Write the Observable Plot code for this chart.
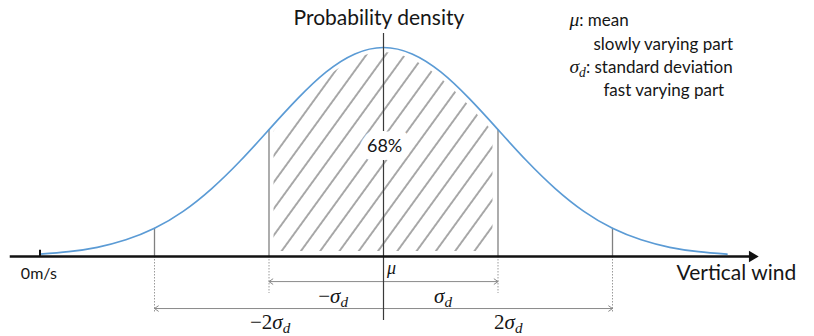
<!DOCTYPE html>
<html>
<head>
<meta charset="utf-8">
<script src="https://cdn.jsdelivr.net/npm/d3@7"></script>
<script src="https://cdn.jsdelivr.net/npm/@observablehq/plot@0.6"></script>
<style>
  body { margin: 0; background: #fff; }
  #chart svg { display: block; }
</style>
</head>
<body>
<div id="chart"></div>
<script>
// ---- data (x in units of sigma, density normalised to the peak) ----
const sigmaSteps   = [-3, -2.75, -2.5, -2.25, -2, -1.75, -1.5, -1.25, -1, -0.75, -0.5, -0.25, 0, 0.25, 0.5, 0.75, 1, 1.25, 1.5, 1.75, 2, 2.25, 2.5, 2.75, 3];
const densityValues = [0.011, 0.023, 0.044, 0.080, 0.135, 0.216, 0.325, 0.458, 0.607, 0.755, 0.883, 0.969, 1.0, 0.969, 0.883, 0.755, 0.607, 0.458, 0.325, 0.216, 0.135, 0.080, 0.044, 0.023, 0.011];
const boundaryMarks  = [-2, -1, 1, 2];
const boundaryLabels = ["−2σd", "−σd", "σd", "2σd"];
const shareLabel = "68%";
const legendLines = ["μ: mean", "slowly varying part", "σd: standard deviation", "fast varying part"];
const axisTitleY = "Probability density";
const axisTitleX = "Vertical wind";
const originLabel = "0m/s";
const meanLabel = "μ";

// ---- tables built from the arrays ----
const curve = sigmaSteps.map((u, i) => ({u, p: densityValues[i]}));
const core = curve.filter(d => Math.abs(d.u) <= 1);
const heightAt = u => densityValues[sigmaSteps.indexOf(u)];
const bounds = boundaryMarks.map((u, i) => ({u, h: heightAt(u), label: boundaryLabels[i], level: Math.abs(u)}));

// layout levels (below the axis, in density units)
const arrowLevel = {1: -0.12, 2: -0.249};
const dotLevel = {1: -0.177, 2: -0.268};
const labelLevel = {1: -0.19, 2: -0.314};
const labelShift = {"-2": -0.99, "-1": -0.44, "1": 0.52, "2": 1.09};

const ink = "#161616";
const mathFont = "'Liberation Serif', serif";

const plot = Plot.plot({
  width: 814,
  height: 336,
  margin: 0,
  x: {domain: [-383 / 114.5, 431 / 114.5], axis: null},
  y: {domain: [-80 / 209, 256 / 209], axis: null},
  style: {fontFamily: "Lato, 'Open Sans', sans-serif", color: ink, background: "#fff"},
  marks: [
    // hatched 68% region (white stroke keeps a small gap at the edges)
    Plot.areaY(core, {x: "u", y: "p", curve: "natural", fill: "url(#hatch)", stroke: "#fff", strokeWidth: 10}),
    // boundaries up to the curve
    Plot.ruleX(bounds, {x: "u", y1: () => 0, y2: "h", stroke: "#808080", strokeWidth: 1.3}),
    // dotted extensions under the axis
    Plot.ruleX(bounds, {x: "u", y1: () => 0, y2: d => dotLevel[d.level], stroke: "#9a9a9a", strokeWidth: 1, strokeDasharray: "1.5 1.5"}),
    // dimension arrows from the mean
    Plot.arrow(bounds, {x1: () => 0, x2: "u", y1: d => arrowLevel[d.level], y2: d => arrowLevel[d.level], stroke: "#8a8a8a", strokeWidth: 1, headLength: 7, headAngle: 70}),
    // density curve
    Plot.line(curve, {x: "u", y: "p", curve: "natural", stroke: "#5b9bd5", strokeWidth: 1.7}),
    // mean line
    Plot.ruleX([0], {y1: () => -0.306, y2: () => 1.067, stroke: "#3a3a3a", strokeWidth: 1.2}),
    // horizontal axis with arrow
    Plot.ruleY([0], {x1: () => -3.26, x2: () => 3.2, stroke: "#111", strokeWidth: 2.6}),
    Plot.dot([0], {x: () => 3.22, y: () => 0, symbol: "triangle", rotate: 90, r: 4.2, fill: "#111", stroke: "none"}),
    Plot.ruleX([sigmaSteps[0]], {y1: () => 0, y2: () => 0.03, stroke: "#111", strokeWidth: 2}),
    // texts
    Plot.text([shareLabel], {x: () => 0.01, y: () => 0.526, text: d => d, fontSize: 18, fill: ink, stroke: "#fff", strokeWidth: 16, strokeLinejoin: "round"}),
    Plot.text([axisTitleY], {x: () => -0.04, y: () => 1.139, text: d => d, fontSize: 21, fill: ink}),
    Plot.text([axisTitleX], {x: () => 2.559, y: () => -0.081, text: d => d, textAnchor: "start", fontSize: 21, fill: ink}),
    Plot.text([originLabel], {x: () => -3.01, y: () => -0.081, text: d => d, fontSize: 16, fill: ink}),
    Plot.text([meanLabel], {x: () => 0.03, y: () => -0.054, text: d => d, textAnchor: "start", fontSize: 18, fill: ink}),
    Plot.text(bounds, {x: d => labelShift[d.u], y: d => labelLevel[d.level], text: "label", fontSize: 21, fill: ink}),
    Plot.text(legendLines, {
      x: (d, i) => [1.624, 1.834, 1.624, 1.921][i],
      y: (d, i) => [1.129, 1.014, 0.904, 0.794][i],
      text: d => d, textAnchor: "start", fontSize: 17, fill: ink
    })
  ]
});

// hatch pattern definition
const svg = d3.select(plot);
const defs = svg.insert("defs", ":first-child");
const pat = defs.append("pattern")
  .attr("id", "hatch")
  .attr("patternUnits", "userSpaceOnUse")
  .attr("width", 15.6)
  .attr("height", 10)
  .attr("patternTransform", "rotate(36)");
pat.append("line").attr("x1", 1).attr("x2", 1).attr("y1", 0).attr("y2", 10)
  .attr("stroke", "#3c3c3c").attr("stroke-width", 0.9);

// typeset math glyphs (italic sigma/mu, subscript d)
svg.selectAll("text").each(function () {
  const el = this;
  const s = el.textContent;
  if (!/[σμ]/.test(s)) return;
  el.textContent = "";
  const allMath = !/[a-ce-z]{2,}/i.test(s.replace(/σd/g, ""));
  // build runs
  const runs = [];
  for (let i = 0; i < s.length; i++) {
    const c = s[i];
    if (c === "σ" || c === "μ") {
      runs.push({txt: c, math: true, italic: true, size: allMath ? null : "1.15em"});
      if (c === "σ" && s[i + 1] === "d") { runs.push({txt: "d", math: true, italic: true, sub: true, size: allMath ? "0.72em" : "0.8em"}); i++; }
    } else {
      const last = runs[runs.length - 1];
      const math = allMath;
      if (last && !last.sub && last.math === math && !last.italic) last.txt += c;
      else runs.push({txt: c, math, italic: false});
    }
  }
  let shifted = false;
  runs.forEach(r => {
    const t = document.createElementNS("http://www.w3.org/2000/svg", "tspan");
    t.textContent = r.txt;
    if (r.math) t.setAttribute("font-family", mathFont);
    if (r.italic) t.setAttribute("font-style", "italic");
    if (r.size) t.setAttribute("font-size", r.size);
    if (r.sub) { t.setAttribute("dy", "0.3em"); shifted = true; }
    else if (shifted) { t.setAttribute("dy", allMath ? "-0.216em" : "-0.24em"); shifted = false; }
    el.appendChild(t);
  });
});

document.getElementById("chart").appendChild(plot);
</script>
</body>
</html>
